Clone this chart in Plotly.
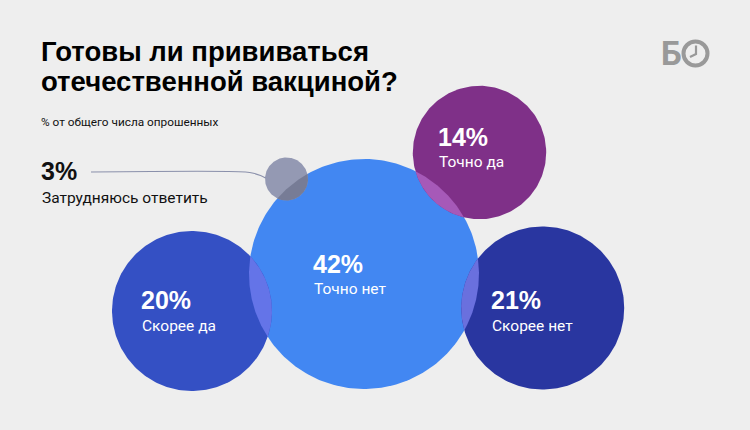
import numpy as np
import plotly.graph_objects as go

# ---- data ----
categories = ["Точно нет", "Точно да", "Скорее нет", "Скорее да", "Затрудняюсь ответить"]
values = [42, 14, 21, 20, 3]

# ---- layout (pixel coordinates of the bubble chart) ----
cx = [364, 479.5, 542.7, 192, 286.5]
cy = [274, 152.5, 308, 311, 179]
rad = [115, 66.7, 81.5, 80, 21.5]
colors = ["#4287f2", "#7f3088", "#2936a0", "#3450c4", "#9499b3"]
lens_colors = [None, "#a659b8", "#6a70de", "#6474e8", "#777c96"]
label_x = [312.7, 438.3, 490.7, 140.7, 40.7]
pct_y = [265.3, 138, 301, 301, 172.3]
name_y = [289.3, 161.7, 325.8, 325.8, 197.5]

BG = "#eeeeee"
FONT = "Roboto"
BOLD = "Liberation Sans"


def circle_pts(x0, y0, r, a0=0, a1=2 * np.pi, n=240):
    t = np.linspace(a0, a1, n)
    return x0 + r * np.cos(t), y0 + r * np.sin(t)


def lens_pts(i, j):
    xa, ya, ra = cx[i], cy[i], rad[i]
    xb, yb, rb = cx[j], cy[j], rad[j]
    d = np.hypot(xb - xa, yb - ya)
    phi = np.arctan2(yb - ya, xb - xa)
    psi = np.arctan2(ya - yb, xa - xb)
    al = np.arccos((ra ** 2 + d ** 2 - rb ** 2) / (2 * ra * d))
    be = np.arccos((rb ** 2 + d ** 2 - ra ** 2) / (2 * rb * d))
    x1, y1 = circle_pts(xa, ya, ra, phi - al, phi + al, 120)
    x2, y2 = circle_pts(xb, yb, rb, psi - be, psi + be, 120)
    return np.concatenate([x1, x2]), np.concatenate([y1, y2])


fig = go.Figure()

# circles
for k in range(len(values)):
    xs, ys = circle_pts(cx[k], cy[k], rad[k])
    fig.add_trace(go.Scatter(x=xs, y=ys, mode="lines", fill="toself",
                             fillcolor=colors[k], line=dict(width=0),
                             hoverinfo="skip", showlegend=False))

# overlaps with the main bubble
for k in range(1, len(values)):
    xs, ys = lens_pts(0, k)
    fig.add_trace(go.Scatter(x=xs, y=ys, mode="lines", fill="toself",
                             fillcolor=lens_colors[k], line=dict(width=0),
                             hoverinfo="skip", showlegend=False))

# leader line for the small bubble
k = 4
lx0 = 91
ly = cy[k] - 7
ex, ey = cx[k] - rad[k] + 0.5, cy[k] - 1
fig.add_trace(go.Scatter(
    x=[lx0, ex - 20, ex - 12, ex - 5, ex],
    y=[ly, ly, ly + 1.2, ly + 3.6, ey],
    mode="lines", line=dict(color="#8a90ab", width=1.1, shape="spline"),
    hoverinfo="skip", showlegend=False))

PCT_SIZE = 25
pct_shift = 0.2 * PCT_SIZE - 3.7

annotations = []
for k in range(len(values)):
    tc = "#111111" if k == 4 else "#ffffff"
    annotations.append(dict(x=label_x[k] - 1, y=pct_y[k] - pct_shift, xref="x", yref="y",
                            text=f"<b>{values[k]}%</b>", showarrow=False,
                            xanchor="left", yanchor="middle", borderpad=0,
                            font=dict(family=BOLD, size=PCT_SIZE, color=tc)))
    annotations.append(dict(x=label_x[k], y=name_y[k], xref="x", yref="y",
                            text=categories[k], showarrow=False,
                            xanchor="left", yanchor="middle", borderpad=0,
                            font=dict(family=FONT, size=15.5, color=tc)))

# title, subtitle
TSIZE = 27.5
t_shift = 0.2 * TSIZE - 4.2
annotations.append(dict(x=40, y=53 - t_shift, xref="x", yref="y",
                        text="<b>Готовы ли прививаться</b>", showarrow=False,
                        xanchor="left", yanchor="middle", borderpad=0,
                        font=dict(family=BOLD, size=TSIZE, color="#000000")))
annotations.append(dict(x=40, y=83 - t_shift, xref="x", yref="y",
                        text="<b>отечественной вакциной?</b>", showarrow=False,
                        xanchor="left", yanchor="middle", borderpad=0,
                        font=dict(family=BOLD, size=TSIZE, color="#000000")))
annotations.append(dict(x=40, y=122, xref="x", yref="y",
                        text="% от общего числа опрошенных", showarrow=False,
                        xanchor="left", yanchor="middle", borderpad=0,
                        font=dict(family=FONT, size=11.8, color="#111111")))
# logo
annotations.append(dict(x=660, y=53, xref="x", yref="y",
                        text="<b>Б</b>", showarrow=False,
                        xanchor="left", yanchor="middle", borderpad=0,
                        font=dict(family=FONT, size=33, color="#999999")))

shapes = [
    dict(type="circle", xref="x", yref="y", x0=683.5, x1=707.5, y0=41.5, y1=65.5,
         line=dict(color="#999999", width=4)),
    dict(type="path", xref="x", yref="y",
         path="M 696 45.5 L 696 54 L 690 57",
         line=dict(color="#999999", width=2.2)),
]

fig.update_layout(
    width=750, height=430,
    margin=dict(l=0, r=0, t=0, b=0),
    paper_bgcolor=BG, plot_bgcolor=BG,
    xaxis=dict(range=[0, 750], visible=False, fixedrange=True),
    yaxis=dict(range=[430, 0], visible=False, fixedrange=True),
    annotations=annotations, shapes=shapes,
    showlegend=False,
)

fig.write_html("out.html", config={"displayModeBar": False},
               post_script="document.body.style.margin='0';document.body.style.background='#eeeeee';")
